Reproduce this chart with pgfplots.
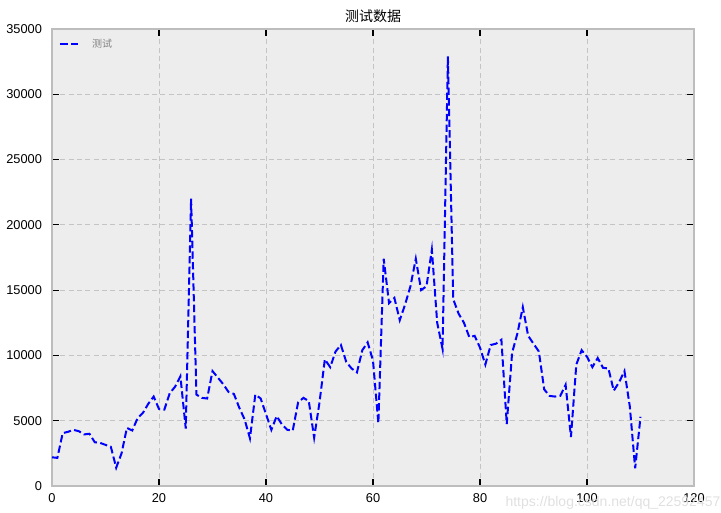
\documentclass[border=0pt]{standalone}
\usepackage{pgfplots}
\pgfplotsset{compat=1.18}
\usepackage{fontspec}
\setmainfont{Liberation Sans}
\newfontfamily\cjk{Noto Sans CJK SC}
\definecolor{bgc}{HTML}{EDEDED}
\definecolor{gridc}{HTML}{C4C4C4}
\definecolor{framec}{HTML}{BDBDBD}
\begin{document}
\begin{tikzpicture}
\begin{axis}[
  scale only axis,
  width=481.5pt, height=342.75pt,
  xmin=0, xmax=120, ymin=0, ymax=35000,
  xtick={0,20,...,120}, ytick={0,5000,...,35000},
  axis background/.style={fill=bgc},
  axis line style={framec, line width=1.5pt},
  tick style={black, line width=0.8pt},
  major tick length=5pt,
  tick align=inside,
  xtick pos=both, ytick pos=both,
  grid=major,
  major grid style={gridc, dash pattern=on 3.75pt off 2.5pt, line width=0.6pt},
  scaled y ticks=false,
  /pgf/number format/assume math mode=true,
  yticklabel style={/pgf/number format/fixed, /pgf/number format/1000 sep={}, xshift=-4pt},
  xticklabel style={yshift=-2pt},
  ticklabel style={font=\fontsize{9.6}{11}\selectfont},
  title={\cjk 测试数据},
  title style={font=\fontsize{10.5}{12}\selectfont, yshift=-5pt},
  legend style={at={(0.005,0.99)}, anchor=north west, draw=none, fill=none, font=\cjk\fontsize{7.5}{9}\selectfont, text=gray},
  legend cell align=left,
  legend image code/.code={\draw[#1] (0pt,0pt) -- (15pt,0pt); \path (21pt,0pt);},
]
\addplot[blue, line width=1.5pt, dash pattern=on 5.5pt off 2.5pt] coordinates {
(0,2200) (1,2150) (2,4050) (3,4150) (4,4300) (5,4200) (6,3950) (7,4000) (8,3350) (9,3300) (10,3150) (11,3000) (12,1400) (13,2500) (14,4450) (15,4250) (16,5200) (17,5600) (18,6300) (19,6850) (20,5900) (21,5850) (22,7100) (23,7600) (24,8400) (25,4400) (26,22000) (27,7000) (28,6750) (29,6700) (30,8800) (31,8300) (32,7800) (33,7200) (34,7050) (35,6000) (36,5100) (37,3650) (38,7000) (39,6700) (40,5500) (41,4300) (42,5350) (43,4700) (44,4300) (45,4250) (46,6400) (47,6750) (48,6500) (49,3700) (50,6400) (51,9700) (52,9100) (53,10300) (54,10800) (55,9500) (56,9000) (57,8700) (58,10400) (59,11000) (60,9600) (61,4800) (62,17400) (63,14000) (64,14400) (65,12700) (66,13900) (67,15300) (68,17400) (69,15000) (70,15300) (71,18100) (72,12500) (73,10500) (74,32900) (75,14300) (76,13200) (77,12500) (78,11400) (79,11500) (80,10600) (81,9300) (82,10800) (83,10900) (84,11200) (85,4750) (86,10200) (87,11700) (88,13700) (89,11500) (90,10900) (91,10300) (92,7400) (93,6900) (94,6850) (95,6900) (96,7750) (97,3750) (98,9300) (99,10400) (100,9900) (101,9100) (102,9800) (103,9050) (104,9000) (105,7300) (106,7950) (107,8800) (108,6100) (109,1350) (110,5300)
};
\addlegendentry{测试}
\end{axis}
\node[anchor=south east, text=black!12, font=\fontsize{10.5}{12}\selectfont, inner sep=0pt] at ([shift={(20pt,-17.5pt)}]current axis.south east) {https://blog.csdn.net/qq\_22592457};
\pgfresetboundingbox
\path[use as bounding box] ([shift={(-39pt,-20.25pt)}]current axis.south west) rectangle ([shift={(20.25pt,21.75pt)}]current axis.north east);
\end{tikzpicture}
\end{document}
